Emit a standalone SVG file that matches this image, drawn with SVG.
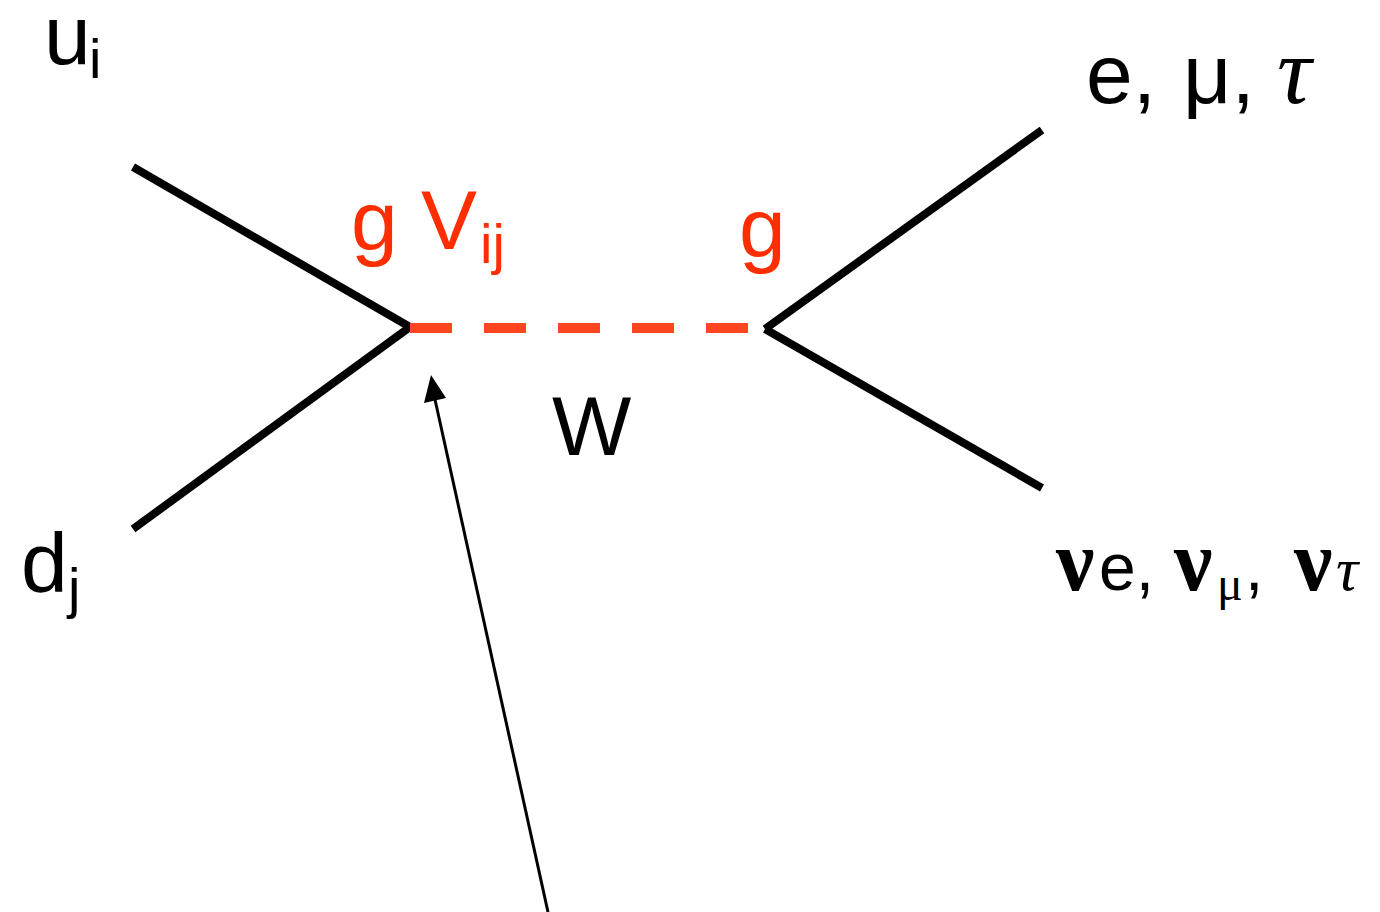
<svg xmlns="http://www.w3.org/2000/svg" width="1380" height="912" viewBox="0 0 1380 912">
<style>
.t{font-family:"Liberation Sans",Arial,sans-serif;fill:#000}
.r{fill:#FF2E00}
.s{font-family:"Liberation Serif","Times New Roman",serif}
.leg{stroke:#000;stroke-width:8;fill:none}
</style>
<rect width="1380" height="912" fill="#fff"/>
<g id="connectors">
<line class="leg" x1="133" y1="167" x2="410" y2="327"/>
<line class="leg" x1="133" y1="529" x2="410" y2="327"/>
<line class="leg" x1="765" y1="329" x2="1042" y2="130"/>
<line class="leg" x1="765" y1="329" x2="1042" y2="488"/>
<line x1="410" y1="328" x2="752" y2="328" stroke="#FF4520" stroke-width="10" stroke-dasharray="42,32"/>
<line x1="548" y1="912" x2="434" y2="395" stroke="#000" stroke-width="3"/>
<path d="M431,375 L446,398 L424,403 z" fill="#000"/>
</g>
<g id="label-u">
<text class="t" x="44" y="64" font-size="84">u</text>
<text class="t" x="89" y="78" font-size="56">i</text>
</g>
<g id="label-d">
<text class="t" x="21" y="592" font-size="84">d</text>
<text class="t" x="68" y="607" font-size="56">j</text>
</g>
<g id="label-gV">
<text class="t r" x="351" y="250" font-size="84">g</text>
<text class="t r" x="421" y="249" font-size="84">V</text>
<text class="t r" x="480" y="263" font-size="56">ij</text>
</g>
<g id="label-g">
<text class="t r" x="739" y="257" font-size="84">g</text>
</g>
<g id="label-W">
<text class="t" x="552" y="455" font-size="84">W</text>
</g>
<g id="label-leptons">
<text class="t" y="103" font-size="84"><tspan x="1086">e,</tspan><tspan x="1183">μ,</tspan><tspan x="1277" class="s" font-style="italic" font-size="96">τ</tspan></text>
</g>
<g id="label-neutrinos">
<text class="t" y="590" font-size="66"><tspan x="1056" class="s" font-weight="bold" font-size="86">ν</tspan><tspan x="1099">e,</tspan><tspan x="1174" class="s" font-weight="bold" font-size="86">ν</tspan><tspan x="1217" class="s" font-size="48" dy="10">μ</tspan><tspan x="1245" dy="-10">,</tspan><tspan x="1294" class="s" font-weight="bold" font-size="86">ν</tspan><tspan x="1336" class="s" font-style="italic" font-size="62">τ</tspan></text>
</g>
</svg>
